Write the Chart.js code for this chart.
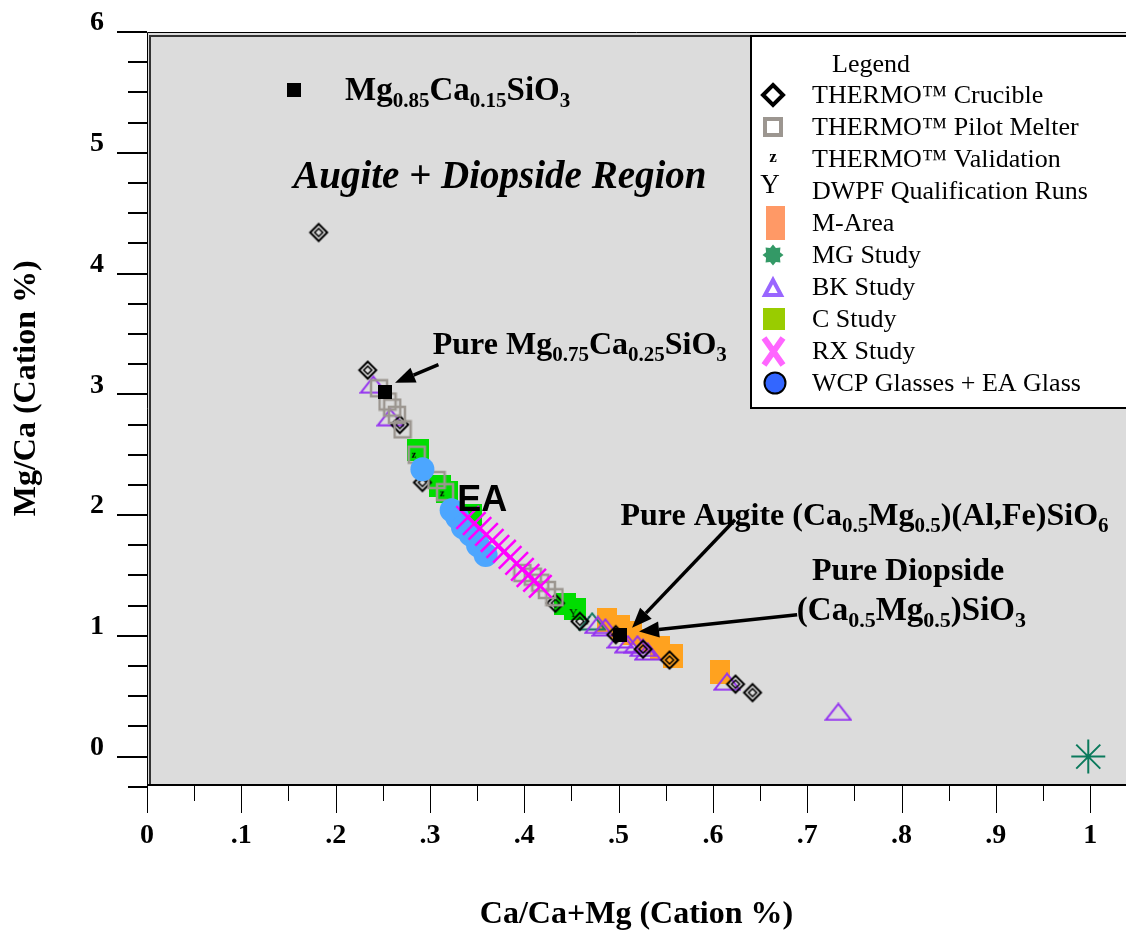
<!DOCTYPE html>
<html lang="en">
<head>
  <meta charset="UTF-8" />
  <title>Mg/Ca vs Ca/Ca+Mg</title>
  <script src="https://cdn.jsdelivr.net/npm/chart.js"></script>
  <style>
    html, body { margin: 0; padding: 0; background: #fff; }
  </style>
</head>
<body>
  <canvas id="pyxChart" width="1126" height="935"></canvas>

  <script>
    // axis labels
    const xTickLabels = ['0', '.1', '.2', '.3', '.4', '.5', '.6', '.7', '.8', '.9', '1'];
    const yTickLabels = ['0', '1', '2', '3', '4', '5', '6'];

    // Ca/(Ca+Mg) and Mg/Ca for each study
    const crucibleX = [0.182, 0.234, 0.268, 0.292, 0.433, 0.459, 0.497, 0.526, 0.554, 0.624, 0.642];
    const crucibleY = [4.34, 3.20, 2.75, 2.27, 1.27, 1.12, 1.01, 0.89, 0.80, 0.60, 0.53];

    const pilotX = [0.246, 0.255, 0.260, 0.265, 0.271, 0.286, 0.307, 0.316, 0.398, 0.409, 0.417, 0.424, 0.432];
    const pilotY = [3.05, 2.94, 2.89, 2.83, 2.71, 2.50, 2.29, 2.19, 1.52, 1.49, 1.44, 1.38, 1.32];

    const validationX = [0.283, 0.298, 0.313];
    const validationY = [2.50, 2.30, 2.18];

    const dwpfX = [0.452, 0.466];
    const dwpfY = [1.18, 1.12];

    const mAreaX = [0.488, 0.502, 0.514, 0.528, 0.544, 0.558, 0.608];
    const mAreaY = [1.13, 1.07, 1.02, 0.96, 0.90, 0.83, 0.70];

    const mgX = [0.472, 0.998];
    const mgY = [1.12, 0.00];

    const bkX = [0.240, 0.258, 0.478, 0.486, 0.502, 0.510, 0.520, 0.526, 0.531, 0.615, 0.733];
    const bkY = [3.08, 2.81, 1.09, 1.07, 0.97, 0.93, 0.93, 0.90, 0.87, 0.62, 0.37];

    const cStudyX = [0.287, 0.311, 0.318, 0.343, 0.443, 0.454];
    const cStudyY = [2.54, 2.24, 2.19, 2.00, 1.26, 1.22];

    const rxX = [0.340, 0.347, 0.353, 0.360, 0.366, 0.372, 0.379, 0.385, 0.392, 0.398, 0.404, 0.411, 0.417];
    const rxY = [1.98, 1.93, 1.89, 1.84, 1.79, 1.74, 1.70, 1.65, 1.60, 1.55, 1.50, 1.46, 1.41];

    const wcpX = [0.292, 0.323, 0.329, 0.335, 0.343, 0.351, 0.359];
    const wcpY = [2.38, 2.04, 1.98, 1.90, 1.84, 1.75, 1.67];

    // pure mineral compositions (black squares)
    const pureX = [0.156, 0.252, 0.502];
    const pureY = [5.52, 3.02, 1.01];

    const serif = '"Liberation Serif", "Times New Roman", serif';
    const pts = (xs, ys) => xs.map((x, i) => ({ x, y: ys[i] }));

    // small offscreen canvases used as point styles
    function marker(w, h, paint) {
      const c = document.createElement('canvas');
      c.width = w; c.height = h;
      paint(c.getContext('2d'), w, h);
      return c;
    }
    function diamondPath(g, cx, cy, r) {
      g.beginPath();
      g.moveTo(cx, cy - r); g.lineTo(cx + r, cy); g.lineTo(cx, cy + r); g.lineTo(cx - r, cy);
      g.closePath();
    }
    function triPath(g, w, h, inset) {
      g.beginPath();
      g.moveTo(inset, h - inset); g.lineTo(w - inset, h - inset); g.lineTo(w / 2, inset);
      g.closePath();
    }

    const diamondMark = marker(22, 22, g => {
      g.strokeStyle = '#000'; g.lineWidth = 2;
      diamondPath(g, 11, 11, 8.5); g.stroke();
      g.lineWidth = 1.5;
      diamondPath(g, 11, 11, 4); g.stroke();
    });
    const pilotMark = marker(20, 20, g => {
      g.strokeStyle = '#9c9690'; g.lineWidth = 2.5; g.strokeRect(2, 2, 16, 16);
    });
    const zMark = marker(12, 14, g => {
      g.font = 'bold 11px ' + serif; g.textAlign = 'center'; g.textBaseline = 'middle';
      g.fillText('z', 6, 7);
    });
    const yMark = marker(12, 14, g => {
      g.font = '12px ' + serif; g.textAlign = 'center'; g.textBaseline = 'middle';
      g.fillText('Y', 6, 7);
    });
    const orangeMark = marker(20, 24, g => { g.fillStyle = '#ffa21f'; g.fillRect(0, 0, 20, 24); });
    const tealTriMark = marker(28, 19, (g, w, h) => {
      g.strokeStyle = '#157a62'; g.lineWidth = 2; triPath(g, w, h, 1.5); g.stroke();
    });
    const bkTriMark = marker(28, 19, (g, w, h) => {
      g.strokeStyle = '#9432f0'; g.lineWidth = 2; triPath(g, w, h, 1.5); g.stroke();
    });
    const greenMark = marker(22, 22, g => { g.fillStyle = '#00dd00'; g.fillRect(0, 0, 22, 22); });
    const pureMark = marker(14, 14, g => { g.fillStyle = '#000'; g.fillRect(0, 0, 14, 14); });

    const datasets = [
      { label: 'THERMO™ Crucible', data: pts(crucibleX, crucibleY), pointStyle: diamondMark, pointRadius: 10, order: 4 },
      { label: 'THERMO™ Pilot Melter', data: pts(pilotX, pilotY), pointStyle: pilotMark, pointRadius: 10, order: 3 },
      { label: 'THERMO™ Validation', data: pts(validationX, validationY), pointStyle: zMark, pointRadius: 6, order: 5 },
      { label: 'DWPF Qualification Runs', data: pts(dwpfX, dwpfY), pointStyle: yMark, pointRadius: 6, order: 5 },
      { label: 'M-Area', data: pts(mAreaX, mAreaY), pointStyle: orangeMark, pointRadius: 11, order: 8 },
      { label: 'MG Study', data: pts(mgX, mgY), pointStyle: [tealTriMark, 'star'], pointRadius: [10, 17],
        borderColor: '#0b7a5c', borderWidth: 2, order: 6 },
      { label: 'BK Study', data: pts(bkX, bkY), pointStyle: bkTriMark, pointRadius: 12, order: 5 },
      { label: 'C Study', data: pts(cStudyX, cStudyY), pointStyle: greenMark, pointRadius: 11, order: 7 },
      { label: 'RX Study', data: pts(rxX, rxY), pointStyle: 'crossRot', pointRadius: 16,
        borderColor: '#ff00ff', borderWidth: 2.5, order: 1 },
      { label: 'WCP Glasses + EA Glass', data: pts(wcpX, wcpY), pointStyle: 'circle', pointRadius: 12,
        backgroundColor: '#4ca6ff', borderWidth: 0, order: 2 },
      { label: 'pure', data: pts(pureX, pureY), pointStyle: pureMark, pointRadius: 7, order: 0 }
    ];

    // legend symbols, drawn at (x, y)
    const legendSymbols = {
      'THERMO™ Crucible': (g, x, y) => { g.strokeStyle = '#000'; g.lineWidth = 4; diamondPath(g, x, y, 10); g.stroke(); },
      'THERMO™ Pilot Melter': (g, x, y) => { g.strokeStyle = '#9c9690'; g.lineWidth = 4; g.strokeRect(x - 8, y - 8, 16, 16); },
      'THERMO™ Validation': (g, x, y) => { g.font = 'bold 17px ' + serif; g.fillText('z', x, y + 3); },
      'DWPF Qualification Runs': (g, x, y) => { g.font = '27px ' + serif; g.fillText('Y', x - 3, y + 2); },
      'M-Area': (g, x, y) => { g.fillStyle = '#ff9966'; g.fillRect(x - 7, y - 17, 19, 34); },
      'MG Study': (g, x, y) => {
        g.fillStyle = '#339966'; g.beginPath();
        for (let i = 0; i < 16; i++) {
          const r = i % 2 ? 7.5 : 10.5, a = i * Math.PI / 8;
          g.lineTo(x + r * Math.cos(a), y + r * Math.sin(a));
        }
        g.closePath(); g.fill();
      },
      'BK Study': (g, x, y) => {
        g.strokeStyle = '#9966ff'; g.lineWidth = 4; g.beginPath();
        g.moveTo(x - 8, y + 8); g.lineTo(x + 8, y + 8); g.lineTo(x, y - 7); g.closePath(); g.stroke();
      },
      'C Study': (g, x, y) => { g.fillStyle = '#99cc00'; g.fillRect(x - 10, y - 11, 22, 22); },
      'RX Study': (g, x, y) => {
        g.strokeStyle = '#ff66ff'; g.lineWidth = 6; g.beginPath();
        g.moveTo(x - 9, y - 13); g.lineTo(x + 10, y + 14); g.moveTo(x + 10, y - 13); g.lineTo(x - 9, y + 14); g.stroke();
      },
      'WCP Glasses + EA Glass': (g, x, y) => {
        g.fillStyle = '#3366ff'; g.strokeStyle = '#000'; g.lineWidth = 2;
        g.beginPath(); g.arc(x + 2, y, 10.5, 0, Math.PI * 2); g.fill(); g.stroke();
      }
    };

    // text with subscripts: parts are [text, isSub]
    function drawFormula(g, x, y, parts, size, subSize, weight) {
      let cx = x;
      parts.forEach(([txt, sub]) => {
        g.font = `${weight} ${sub ? subSize : size}px ${serif}`;
        g.fillText(txt, cx, sub ? y + size * 0.22 : y);
        cx += g.measureText(txt).width;
      });
    }

    function drawArrow(g, x1, y1, x2, y2) {
      const a = Math.atan2(y2 - y1, x2 - x1);
      const head = 20, half = 8;
      const bx = x2 - head * Math.cos(a), by = y2 - head * Math.sin(a);
      g.lineWidth = 3.5;
      g.beginPath(); g.moveTo(x1, y1); g.lineTo(bx, by); g.stroke();
      g.beginPath();
      g.moveTo(x2, y2);
      g.lineTo(bx + half * Math.sin(a), by - half * Math.cos(a));
      g.lineTo(bx - half * Math.sin(a), by + half * Math.cos(a));
      g.closePath(); g.fill();
    }

    // gray plot panel, its frame, the tick marks and the y title
    const framePlugin = {
      id: 'frame',
      beforeDraw(chart) {
        const { ctx, chartArea: a } = chart;
        ctx.save();
        ctx.fillStyle = '#dcdcdc';
        ctx.fillRect(a.left, a.top, a.right - a.left, a.bottom - a.top);
        ctx.restore();
      },
      beforeDatasetsDraw(chart) {
        const { ctx, chartArea: a, scales: { x, y } } = chart;
        ctx.save();
        ctx.strokeStyle = '#000';
        ctx.lineWidth = 1;
        ctx.beginPath();
        ctx.moveTo(a.right, a.top + 0.5); ctx.lineTo(a.left + 0.5, a.top + 0.5); ctx.lineTo(a.left + 0.5, a.bottom);
        ctx.stroke();
        ctx.lineWidth = 2;
        ctx.strokeStyle = '#333';
        ctx.beginPath();
        ctx.moveTo(a.right, a.top + 4); ctx.lineTo(a.left + 3, a.top + 4); ctx.lineTo(a.left + 3, a.bottom);
        ctx.stroke();
        ctx.strokeStyle = '#000';
        ctx.beginPath(); ctx.moveTo(a.left, a.bottom); ctx.lineTo(a.right, a.bottom); ctx.stroke();

        // x ticks every .05, long at each tenth
        ctx.lineWidth = 1;
        for (let i = 0; i <= 20; i++) {
          const px = Math.round(x.getPixelForValue(i * 0.05)) + 0.5;
          ctx.beginPath(); ctx.moveTo(px, a.bottom + 1); ctx.lineTo(px, a.bottom + (i % 2 ? 16 : 28)); ctx.stroke();
        }
        // y ticks every .25, long at each integer
        ctx.lineWidth = 2;
        for (let i = -1; i <= 24; i++) {
          const py = Math.round(y.getPixelForValue(i * 0.25));
          ctx.beginPath(); ctx.moveTo(a.left, py); ctx.lineTo(a.left - (i % 4 ? 19 : 30), py); ctx.stroke();
        }

        // y axis title, sitting a little above the middle of the axis
        ctx.translate(27, y.getPixelForValue(3.05));
        ctx.rotate(-Math.PI / 2);
        ctx.fillStyle = '#000';
        ctx.font = 'bold 32px ' + serif;
        ctx.textAlign = 'center';
        ctx.textBaseline = 'middle';
        ctx.fillText('Mg/Ca (Cation %)', 0, 0);
        ctx.restore();
      }
    };

    // labels, arrows and the legend box over the points
    const notesPlugin = {
      id: 'notes',
      afterDatasetsDraw(chart) {
        const { ctx, scales: { x, y } } = chart;
        const X = v => x.getPixelForValue(v), Y = v => y.getPixelForValue(v);
        ctx.save();
        ctx.fillStyle = '#000';
        ctx.strokeStyle = '#000';
        ctx.textBaseline = 'alphabetic';
        ctx.textAlign = 'left';

        drawFormula(ctx, X(0.210), Y(5.44), [['Mg', 0], ['0.85', 1], ['Ca', 0], ['0.15', 1], ['SiO', 0], ['3', 1]], 33, 21, 'bold');
        ctx.font = 'bold italic 39px ' + serif;
        ctx.fillText('Augite + Diopside Region', X(0.155), Y(4.71));
        drawFormula(ctx, X(0.303), Y(3.33), [['Pure Mg', 0], ['0.75', 1], ['Ca', 0], ['0.25', 1], ['SiO', 0], ['3', 1]], 32, 21, 'bold');
        ctx.font = 'bold 36px "Liberation Sans", Arial, sans-serif';
        ctx.fillText('EA', X(0.329), Y(2.03));
        drawFormula(ctx, X(0.502), Y(1.92), [['Pure Augite (Ca', 0], ['0.5', 1], ['Mg', 0], ['0.5', 1], [')(Al,Fe)SiO', 0], ['6', 1]], 32, 21, 'bold');
        ctx.font = 'bold 32px ' + serif;
        ctx.fillText('Pure Diopside', X(0.705), Y(1.465));
        drawFormula(ctx, X(0.689), Y(1.134), [['(Ca', 0], ['0.5', 1], ['Mg', 0], ['0.5', 1], [')SiO', 0], ['3', 1]], 33, 22, 'bold');

        drawArrow(ctx, X(0.309), Y(3.245), X(0.263), Y(3.096));
        drawArrow(ctx, X(0.6235), Y(1.962), X(0.5143), Y(1.068));
        drawArrow(ctx, X(0.6893), Y(1.175), X(0.5217), Y(1.035));

        // legend
        const lx = 751, ly = 36;
        ctx.fillStyle = '#fff';
        ctx.fillRect(lx, ly, 400, 372);
        ctx.lineWidth = 2;
        ctx.strokeRect(lx, ly, 400, 372);
        ctx.fillStyle = '#000';
        ctx.font = '26px ' + serif;
        ctx.fillText('Legend', 832, 72);
        chart.data.datasets.forEach((ds, i) => {
          const sym = legendSymbols[ds.label];
          if (!sym) return;
          const rowY = 103 + i * 32;
          ctx.save();
          ctx.fillStyle = '#000';
          ctx.textAlign = 'center';
          sym(ctx, 773, rowY - 8);
          ctx.restore();
          ctx.fillStyle = '#000';
          ctx.font = '26px ' + serif;
          ctx.fillText(ds.label, 812, rowY);
        });
        ctx.restore();
      }
    };

    const tickFont = { family: serif, size: 28, weight: 'bold' };
    const titleFont = { family: serif, size: 32, weight: 'bold' };

    // keep the plot box fixed: no label overflow padding around the axes
    function noPadding(s) {
      s.paddingLeft = 0; s.paddingRight = 0; s.paddingTop = 0; s.paddingBottom = 0;
    }

    new Chart(document.getElementById('pyxChart'), {
      type: 'scatter',
      data: { datasets },
      options: {
        responsive: false,
        animation: false,
        devicePixelRatio: 1,
        layout: { autoPadding: false, padding: { top: 32, left: 0, right: 0, bottom: 0 } },
        plugins: { legend: { display: false }, tooltip: { enabled: false } },
        scales: {
          x: {
            type: 'linear', min: 0, max: 1.038,
            grid: { display: false, drawTicks: false }, border: { display: false },
            ticks: {
              stepSize: 0.1, includeBounds: false, autoSkip: false, maxRotation: 0, padding: 34,
              color: '#000', font: tickFont,
              callback: v => xTickLabels[Math.round(v * 10)] || ''
            },
            title: { display: true, text: 'Ca/Ca+Mg (Cation %)', color: '#000', font: titleFont, padding: { top: 0, bottom: 1 } },
            afterFit: s => { s.height = 150; noPadding(s); }
          },
          y: {
            type: 'linear', min: -0.235, max: 6,
            grid: { display: false, drawTicks: false }, border: { display: false },
            ticks: {
              stepSize: 1, includeBounds: false, autoSkip: false, padding: 43, labelOffset: -9,
              color: '#000', font: tickFont,
              callback: v => yTickLabels[Math.round(v)] || ''
            },
            title: { display: false },
            afterFit: s => { s.width = 147; noPadding(s); }
          }
        }
      },
      plugins: [framePlugin, notesPlugin]
    });
  </script>
</body>
</html>
